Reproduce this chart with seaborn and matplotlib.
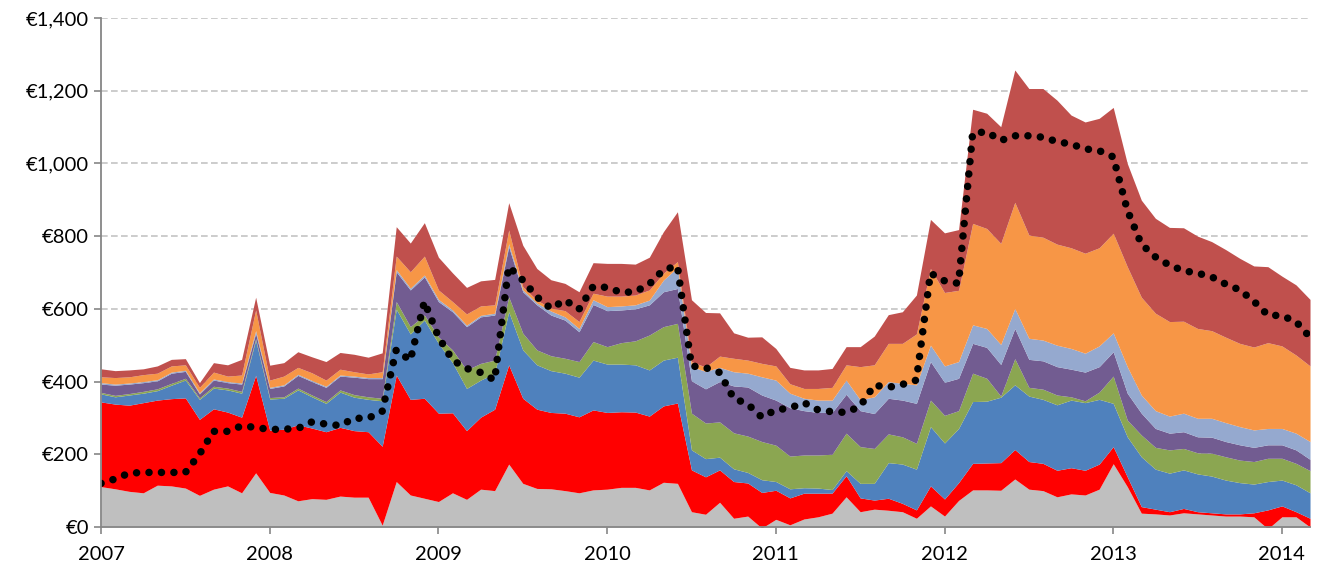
import numpy as np
import matplotlib
matplotlib.use("Agg")
import matplotlib.pyplot as plt
import seaborn as sns
from matplotlib.ticker import FuncFormatter

# monthly values, Jan 2007 .. Mar 2014
months = 2007 + np.arange(87) / 12

grey = [111, 105, 98, 94, 115, 113, 107, 87, 104, 113, 94, 149, 95,
        88, 72, 78, 76, 85, 82, 82, 5, 125, 88, 79, 70,
        94, 76, 104, 100, 173, 120, 106, 105, 100, 94, 102, 104,
        109, 109, 102, 123, 120, 42, 35, 68, 24, 30, -3, 21,
        6, 22, 28, 38, 83, 42, 49, 46, 42, 24, 58, 30,
        73, 102, 102, 101, 132, 104, 100, 83, 91, 88, 104, 174,
        111, 38, 36, 33, 39, 36, 33, 30, 30, 28, -5, 28, 28, 0]
red = [233, 233, 237, 248, 234, 240, 248, 209, 221, 203, 208, 268, 171,
       181, 209, 194, 186, 189, 183, 180, 217, 293, 263, 275, 243,
       220, 189, 198, 224, 273, 234, 218, 210, 213, 209, 220, 211,
       208, 207, 203, 210, 221, 115, 103, 89, 101, 91, 98, 80,
       74, 71, 65, 55, 58, 38, 25, 33, 23, 23, 55, 47,
       49, 73, 74, 76, 81, 76, 75, 73, 72, 68, 69, 47,
       27, 18, 13, 9, 12, 6, 6, 6, 6, 11, 52, 30, 14, 24]
blue = [22, 20, 28, 26, 26, 37, 49, 55, 57, 61, 66, 97, 86,
        85, 96, 86, 78, 97, 92, 89, 125, 181, 180, 215, 192,
        138, 116, 102, 99, 146, 133, 122, 115, 110, 109, 137, 133,
        131, 130, 127, 126, 126, 55, 50, 35, 35, 29, 35, 24,
        25, 15, 14, 10, 14, 40, 46, 98, 108, 112, 163, 154,
        149, 170, 170, 180, 178, 180, 176, 180, 186, 186, 178, 119,
        110, 137, 110, 106, 106, 104, 101, 93, 86, 79, 78, 71, 74, 70]
green = [4, 4, 4, 5, 5, 5, 5, 4, 5, 5, 5, 4, 4,
         4, 5, 5, 5, 6, 7, 7, 7, 21, 20, 14, 18,
         35, 51, 46, 36, 41, 46, 41, 41, 41, 43, 51, 48,
         59, 66, 96, 92, 93, 101, 98, 97, 99, 100, 105, 100,
         90, 90, 91, 97, 103, 101, 96, 79, 75, 71, 73, 76,
         49, 78, 63, 3, 72, 24, 28, 27, 9, 5, 20, 75,
         46, 60, 60, 64, 59, 58, 63, 64, 62, 62, 64, 60, 59, 61]
purple = [23, 28, 26, 24, 22, 28, 19, 11, 17, 15, 20, 15, 25,
          30, 35, 37, 39, 38, 48, 50, 54, 82, 101, 105, 97,
          105, 119, 128, 124, 138, 114, 124, 112, 105, 82, 102, 99,
          90, 88, 83, 96, 96, 89, 94, 111, 129, 135, 128, 124,
          133, 122, 117, 115, 107, 99, 96, 98, 101, 110, 106, 91,
          89, 82, 85, 87, 83, 77, 78, 78, 76, 79, 70, 67,
          74, 60, 52, 46, 46, 44, 44, 42, 42, 39, 37, 37, 37, 31]
light_blue = [4, 3, 3, 3, 3, 3, 3, 3, 3, 3, 3, 7, 3,
              3, 3, 3, 3, 3, 3, 3, 3, 6, 5, 5, 6,
              5, 4, 4, 5, 8, 5, 5, 11, 9, 9, 13, 11,
              11, 11, 13, 32, 58, 39, 48, 39, 39, 38, 50, 55,
              40, 34, 34, 34, 39, 30, 46, 46, 46, 51, 45, 45,
              46, 51, 52, 55, 55, 58, 57, 59, 57, 52, 57, 52,
              73, 50, 49, 47, 51, 51, 52, 52, 50, 48, 45, 45, 46, 49]
orange = [16, 18, 17, 19, 18, 17, 15, 15, 19, 15, 22, 57, 20,
          24, 19, 21, 17, 16, 12, 10, 16, 37, 45, 52, 26,
          23, 31, 26, 23, 38, 9, 8, 8, 17, 19, 18, 29,
          27, 27, 28, 19, 16, 14, 12, 31, 37, 36, 37, 39,
          26, 27, 32, 35, 42, 91, 88, 105, 110, 140, 211, 202,
          196, 279, 275, 278, 292, 284, 283, 278, 277, 275, 270, 274,
          275, 269, 268, 260, 253, 247, 241, 235, 229, 228, 236, 227, 215, 208]
dark_red = [22, 19, 19, 16, 20, 18, 17, 13, 26, 31, 43, 35, 41,
            37, 43, 44, 51, 46, 48, 46, 52, 81, 79, 92, 90,
            79, 73, 69, 70, 75, 114, 87, 78, 75, 82, 84, 90,
            90, 85, 90, 114, 137, 170, 150, 119, 70, 63, 73, 48,
            45, 51, 51, 52, 50, 55, 79, 79, 87, 107, 135, 164,
            167, 314, 317, 321, 364, 403, 409, 396, 365, 361, 356, 346,
            284, 267, 261, 259, 257, 254, 245, 241, 234, 223, 209, 192, 193, 183]

dotted = [120, 132, 148, 150, 150, 150, 150, 200, 263, 263, 278, 274, 268,
          269, 271, 289, 283, 279, 299, 299, 318, 487, 458, 620, 523,
          459, 436, 425, 404, 716, 679, 633, 601, 624, 599, 661, 659,
          645, 647, 668, 707, 718, 443, 438, 425, 354, 338, 302, 322,
          327, 342, 322, 317, 315, 332, 390, 384, 392, 404, 698, 677,
          670, 1083, 1087, 1063, 1076, 1076, 1072, 1060, 1053, 1040, 1035, 1018,
          872, 778, 743, 720, 705, 698, 688, 668, 652, 621, 583, 581, 565, 522]

colors = ["#BFBFBF", "#FF0000", "#4F81BD", "#8BA651",
          "#725C91", "#95A9CF", "#F79646", "#C0504D"]
years = list(range(2007, 2015))

sns.set_style("white")
plt.rcParams["font.family"] = ["Lato", "DejaVu Sans"]

fig = plt.figure(figsize=(13.17, 5.71), dpi=100)
ax = fig.add_axes([0.0767, 0.0771, 0.9180, 0.8914])

ax.stackplot(months, grey, red, blue, green, purple, light_blue, orange, dark_red,
             colors=colors, linewidth=0)
sns.lineplot(x=months, y=dotted, ax=ax, color="black", linewidth=5.4,
             dashes=False, legend=False)
line = ax.lines[-1]
line.set_linestyle((0, (0.01, 1.65)))
line.set_dash_capstyle("round")

ax.set_xlim(2007, months[-1])
ax.set_ylim(0, 1400)
ax.set_yticks(range(0, 1401, 200))
ax.yaxis.set_major_formatter(FuncFormatter(lambda v, p: f"€{v:,.0f}"))
ax.set_xticks(years)
ax.set_xticklabels([str(y) for y in years])

ax.set_axisbelow(True)
ax.yaxis.grid(True, color="#C4C4C4", linestyle=(0, (4, 2)), linewidth=1.2)
for side in ["top", "right"]:
    ax.spines[side].set_visible(False)
for side in ["left", "bottom"]:
    ax.spines[side].set_color("#868686")
    ax.spines[side].set_linewidth(1.3)
ax.tick_params(axis="both", direction="out", length=5, width=1.2, color="#868686",
               labelsize=14.5, labelcolor="black", left=True, bottom=True)
ax.tick_params(axis="x", pad=9)

fig.savefig("out.png", dpi=100)
